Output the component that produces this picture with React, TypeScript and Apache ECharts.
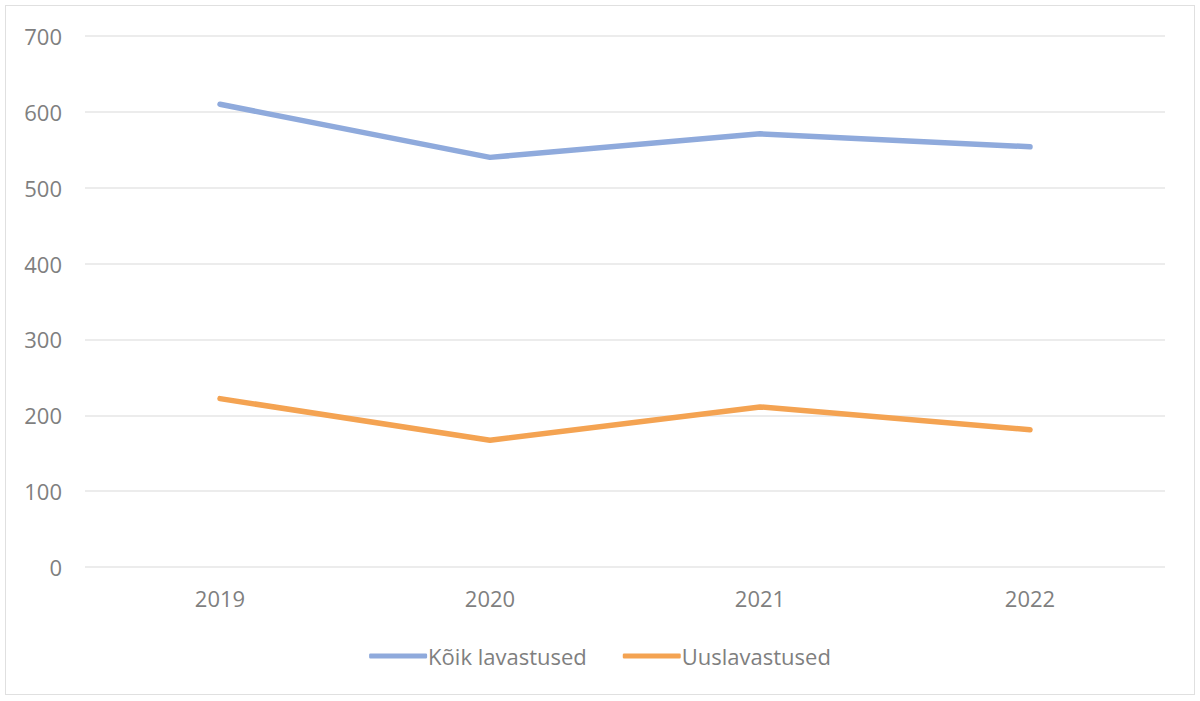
import React, { useEffect, useRef } from "react";
import * as echarts from "echarts";

const years = ["2019", "2020", "2021", "2022"];
const koikLavastused = [610, 540, 571, 554];
const uuslavastused = [222, 167, 211, 181];

export default function App() {
  const ref = useRef<HTMLDivElement>(null);
  useEffect(() => {
    const chart = echarts.init(ref.current!, null, { renderer: "svg" });
    const font = "'Open Sans', 'Noto Sans', sans-serif";
    chart.setOption({
      animation: false,
      backgroundColor: "#ffffff",
      textStyle: { fontFamily: font },
      grid: { left: 79, right: 29, top: 30, bottom: 127 },
      xAxis: {
        type: "category",
        data: years,
        boundaryGap: true,
        axisLine: { show: false },
        axisTick: { show: false },
        axisLabel: { color: "#7f7f7f", fontSize: 22, margin: 20, fontFamily: font },
      },
      yAxis: {
        type: "value",
        min: 0,
        max: 700,
        interval: 100,
        axisLine: { show: false },
        axisTick: { show: false },
        splitLine: { lineStyle: { color: "#e6e6e6", width: 1.5 } },
        axisLabel: { color: "#7f7f7f", fontSize: 22, margin: 23, fontFamily: font },
      },
      legend: {
        bottom: 22,
        left: "center",
        itemWidth: 58,
        itemHeight: 5,
        itemGap: 36,
        icon: "roundRect",
        textStyle: { color: "#7f7f7f", fontSize: 22, fontFamily: font, padding: [0, 0, 0, -4] },
        data: ["Kõik lavastused", "Uuslavastused"],
      },
      series: [
        {
          name: "Kõik lavastused",
          type: "line",
          data: koikLavastused,
          symbol: "none",
          color: "#8faadc",
          lineStyle: { width: 5.5, color: "#8faadc", cap: "round" },
        },
        {
          name: "Uuslavastused",
          type: "line",
          data: uuslavastused,
          symbol: "none",
          color: "#f4a352",
          lineStyle: { width: 5.5, color: "#f4a352", cap: "round" },
        },
      ],
    });
    return () => chart.dispose();
  }, []);
  return (
    <div style={{ position: "fixed", left: 0, top: 0, width: 1200, height: 701, background: "#fff" }}>
      <div
        ref={ref}
        style={{
          position: "absolute",
          left: 5,
          top: 5,
          width: 1190,
          height: 690,
          border: "1px solid #e0e0e0",
          boxSizing: "border-box",
        }}
      />
    </div>
  );
}
